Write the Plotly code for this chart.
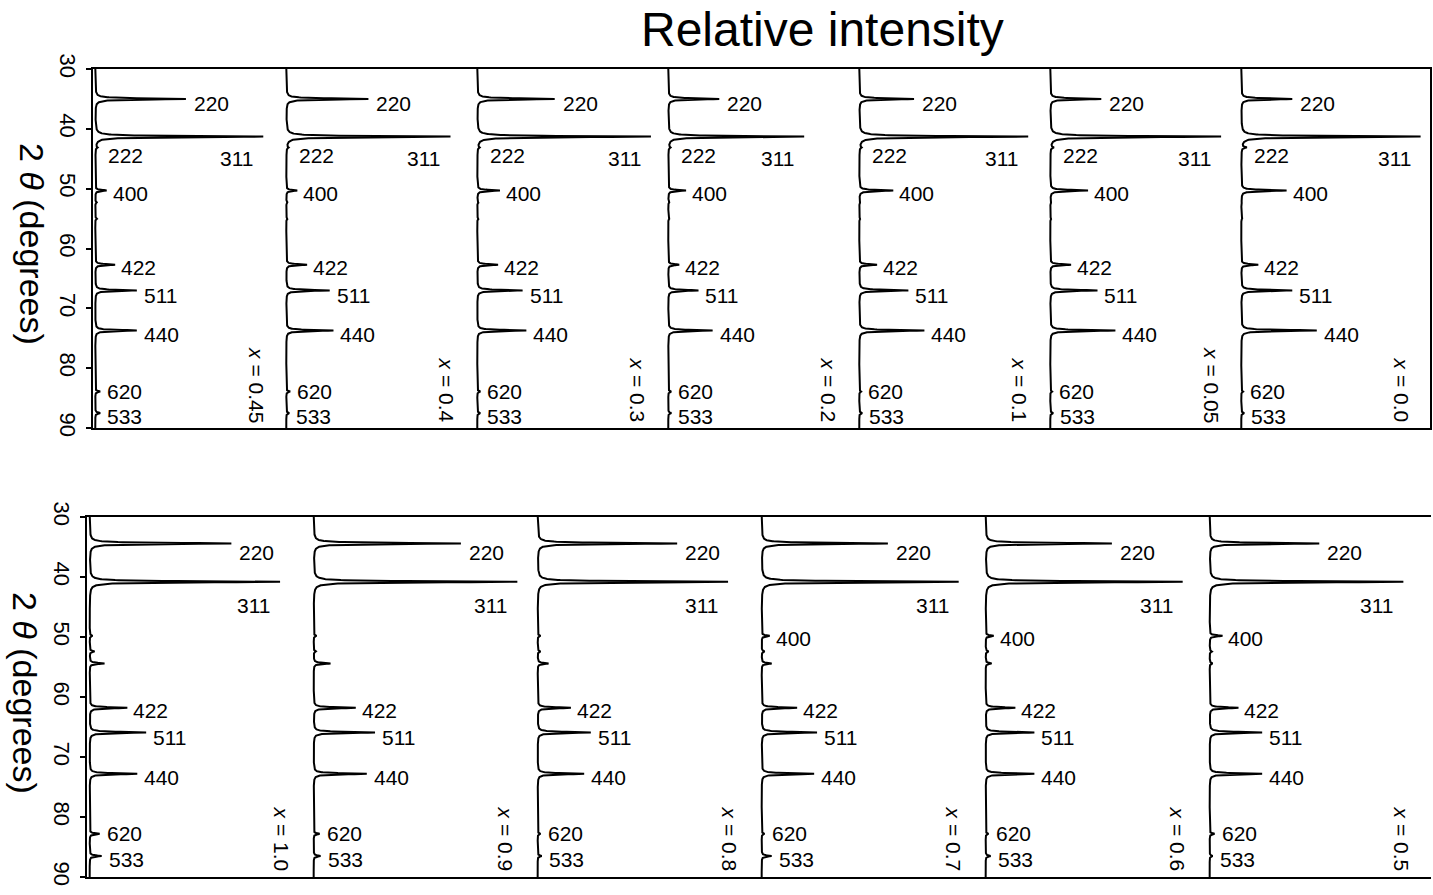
import numpy as np
import plotly.graph_objects as go

FONT = "Liberation Sans, Arial, Helvetica, sans-serif"
W, H = 1433, 895

TWO_THETA_TICKS = [30, 40, 50, 60, 70, 80, 90]

# ---------------- top row: x = 0.45 ... 0.0 ----------------
TOP_COMPOSITIONS = ["0.45", "0.4", "0.3", "0.2", "0.1", "0.05", "0.0"]
TOP_HKL = ["220", "311", "222", "400", "422", "511", "440", "620", "533"]
TOP_POS = [35.0, 41.3, 43.1, 50.3, 62.7, 67.0, 73.7, 83.9, 87.5]
TOP_MINOR_POS = [52.3, 55.0]

TOP_I_045 = [48.0, 89.0, 1.0, 6.0, 10.5, 22.0, 22.0, 2.6, 2.6]
TOP_I_040 = [43.5, 87.0, 1.0, 5.8, 11.0, 23.0, 25.0, 2.0, 1.6]
TOP_I_030 = [41.0, 92.0, 1.0, 12.0, 11.0, 24.0, 26.0, 1.6, 1.6]
TOP_I_020 = [27.0, 72.0, 1.0, 9.4, 5.8, 16.0, 23.5, 1.6, 1.6]
TOP_I_010 = [29.0, 89.5, 1.0, 18.0, 9.4, 26.0, 34.5, 1.0, 1.6]
TOP_I_005 = [27.0, 90.5, 1.6, 20.0, 11.0, 25.0, 34.5, 1.0, 1.6]
TOP_I_000 = [27.0, 95.0, 2.6, 24.0, 9.0, 27.0, 40.0, 1.0, 1.6]
TOP_MINOR_I = [[0.8, 1.0], [0.6, 0.8], [0.6, 0.8], [0.5, 0.6],
               [0.5, 0.6], [0.5, 0.6], [0.4, 0.5]]

# ---------------- bottom row: x = 1.0 ... 0.5 ----------------
BOTTOM_COMPOSITIONS = ["1.0", "0.9", "0.8", "0.7", "0.6", "0.5"]
BOTTOM_HKL = ["220", "311", "400", "422", "511", "440", "620", "533"]
BOTTOM_POS = [34.4, 40.8, 49.8, 61.8, 65.9, 72.8, 82.8, 86.5]
BOTTOM_MINOR_POS = [52.4, 54.4]
BOTTOM_400_LABELLED = ["0.7", "0.6", "0.5"]

BOT_I_100 = [64.0, 86.0, 1.3, 17.0, 25.5, 21.5, 4.5, 5.4]
BOT_I_090 = [66.5, 92.0, 1.3, 19.0, 27.7, 24.0, 2.7, 3.1]
BOT_I_080 = [63.0, 86.0, 1.3, 15.0, 24.0, 21.0, 1.3, 1.8]
BOT_I_070 = [57.0, 89.0, 3.6, 16.0, 25.0, 23.7, 1.3, 4.5]
BOT_I_060 = [57.0, 89.0, 3.6, 13.4, 22.0, 22.0, 1.3, 2.2]
BOT_I_050 = [49.5, 87.5, 5.8, 13.0, 23.7, 23.7, 2.2, 1.3]
BOTTOM_MINOR_I = [[2.2, 6.7], [1.0, 7.6], [1.3, 4.9], [1.3, 4.5],
                  [1.3, 2.7], [1.0, 1.3]]

TOP_I = [TOP_I_045, TOP_I_040, TOP_I_030, TOP_I_020, TOP_I_010, TOP_I_005, TOP_I_000]
BOTTOM_I = [BOT_I_100, BOT_I_090, BOT_I_080, BOT_I_070, BOT_I_060, BOT_I_050]

# peak half width (degrees) of the Lorentzian line profile
GAMMA = 0.11


def profile(positions, heights):
    grid = np.union1d(np.arange(30.0, 90.0001, 0.02), np.asarray(positions, float))
    y = np.zeros_like(grid)
    for p, h in zip(positions, heights):
        y += h * GAMMA ** 2 / ((grid - p) ** 2 + GAMMA ** 2)
    return grid, y


# panel geometry (pixels)
TOP_ROW = dict(left=93, width=191, top=69, bottom=428)
BOT_ROW = dict(left=87, width=224, top=517, bottom=877)

fig = go.Figure()
layout = dict(
    width=W, height=H, autosize=False,
    margin=dict(l=0, r=0, t=0, b=0, pad=0, autoexpand=False),
    paper_bgcolor="white", plot_bgcolor="white",
    showlegend=False,
    font=dict(family=FONT, color="black"),
)
annotations = []

# label offsets in pixels: (xshift, yshift)
LABEL_SHIFT = {
    "220": (6, -5), "400": (4, -3), "422": (4, -3), "511": (5, -5),
    "440": (5, -4), "620": (5, 0), "533": (5, -3),
}


def add_panel(n, row, i, hkl, pos, heights, minor_pos, minor_i, comp, labelled, row_name):
    ax = "" if n == 1 else str(n)
    x0 = (row["left"] + row["width"] * i) / W
    x1 = (row["left"] + row["width"] * (i + 1)) / W
    y0 = 1 - row["bottom"] / H
    y1 = 1 - row["top"] / H
    first = i == 0

    tt, inten = profile(list(pos) + list(minor_pos), list(heights) + list(minor_i))
    fig.add_trace(go.Scatter(
        x=inten, y=tt, mode="lines", xaxis="x" + ax, yaxis="y" + ax,
        line=dict(color="black", width=2.0), hoverinfo="skip",
    ))

    layout["xaxis" + ax] = dict(
        domain=[x0, x1], anchor="y" + ax, range=[-1.2, 100], automargin=False,
        showgrid=False, zeroline=False, showticklabels=False, ticks="",
        showline=True, mirror=True, linecolor="black", linewidth=1.8,
    )
    yax = dict(
        domain=[y0, y1], anchor="x" + ax, range=[90, 30], automargin=False,
        showgrid=False, zeroline=False,
    )
    if first:
        yax.update(
            showline=True, linecolor="black", linewidth=1.8,
            ticks="outside", ticklen=5, tickwidth=1.6, tickcolor="black",
            tickvals=TWO_THETA_TICKS, tickangle=90,
            tickfont=dict(family=FONT, size=22, color="black"),
        )
    elif row_name == "top" and i == len(TOP_COMPOSITIONS) - 1:
        yax.update(showline=True, side="right", linecolor="black", linewidth=1.6,
                   showticklabels=False, ticks="")
    else:
        yax.update(showline=False, showticklabels=False, ticks="")
    layout["yaxis" + ax] = yax

    # reflection labels
    for h, p, lab in zip(heights, pos, hkl):
        if lab not in labelled:
            continue
        a = dict(xref="x" + ax, yref="y" + ax, y=p, showarrow=False,
                 text=lab, font=dict(family=FONT, size=21, color="black"),
                 yanchor="middle")
        if lab == "311":
            a.update(x=h, xanchor="right", xshift=-8,
                     yshift=-22 if row_name == "top" else -24)
        elif lab == "222":
            a.update(x=0, xanchor="left", xshift=11, yshift=-8)
        else:
            dx, dy = LABEL_SHIFT[lab]
            if lab == "220" and row_name == "bottom":
                dy = -9
            a.update(x=h, xanchor="left", xshift=dx, yshift=dy)
        annotations.append(a)

    # composition label
    annotations.append(dict(
        xref=f"x{ax} domain", yref=f"y{ax} domain",
        x=(0.853 if row_name == "top" else 0.87), y=0, yshift=3,
        xanchor="center", yanchor="bottom", showarrow=False, textangle=90,
        text=f"<i>x</i> = {comp}", font=dict(family=FONT, size=21, color="black"),
    ))


n = 1
for i, comp in enumerate(TOP_COMPOSITIONS):
    add_panel(n, TOP_ROW, i, TOP_HKL, TOP_POS, TOP_I[i], TOP_MINOR_POS, TOP_MINOR_I[i],
              comp, set(TOP_HKL), "top")
    n += 1
for i, comp in enumerate(BOTTOM_COMPOSITIONS):
    labs = set(BOTTOM_HKL)
    if comp not in BOTTOM_400_LABELLED:
        labs.discard("400")
    add_panel(n, BOT_ROW, i, BOTTOM_HKL, BOTTOM_POS, BOTTOM_I[i], BOTTOM_MINOR_POS,
              BOTTOM_MINOR_I[i], comp, labs, "bottom")
    n += 1

# titles
annotations.append(dict(
    xref="paper", yref="paper", x=822 / W, y=1 - 30 / H, showarrow=False,
    text="Relative intensity", xanchor="center", yanchor="middle",
    font=dict(family=FONT, size=48, color="black"),
))
for cx, cy in [(32, 244), (25, 693)]:
    annotations.append(dict(
        xref="paper", yref="paper", x=cx / W, y=1 - cy / H, showarrow=False,
        text="2 <i>θ</i> (degrees)", textangle=90, xanchor="center", yanchor="middle",
        font=dict(family=FONT, size=34, color="black"),
    ))

layout["annotations"] = annotations
fig.update_layout(**layout)
fig.write_html("out.html")
